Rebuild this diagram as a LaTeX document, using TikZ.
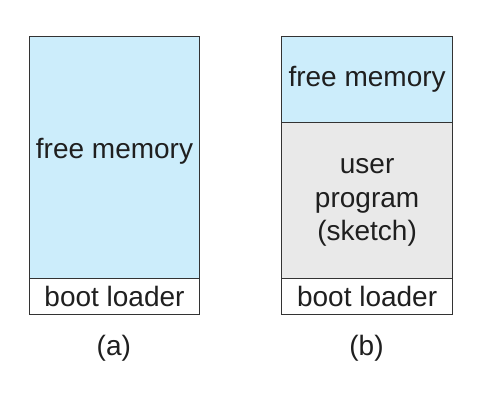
\documentclass[tikz,border=0pt]{standalone}
\usepackage{fontspec}
\setmainfont{Liberation Sans}
\definecolor{freeblue}{RGB}{204,237,251}
\definecolor{usergray}{RGB}{233,233,233}
\definecolor{edge}{RGB}{51,51,51}
\begin{document}
\begin{tikzpicture}[x=1pt,y=1pt,
  block/.style={draw=edge,line width=1.1pt,inner sep=0pt,anchor=south west,minimum width=170.5pt},
  lbl/.style={font=\fontsize{28}{33.5}\selectfont,text=black!88,align=center,inner sep=0pt}]
\useasboundingbox (0,0) rectangle (481,406);
% (a)
\node[block,fill=freeblue,minimum height=242pt] (freeA) at (28.7,126.7) {};
\node[block,fill=white,minimum height=35.4pt] (bootA) at (28.7,91.3) {};
\node[lbl] (freeAtxt) at ([yshift=6pt]freeA.center) {free memory};
\node[lbl] (bootAtxt) at (bootA.center) {boot loader};
\node[lbl] (capA) at (113.8,57.5) {(a)};
% (b)
\node[block,fill=freeblue,minimum height=85.7pt] (freeB) at (281.3,283) {};
\node[block,fill=usergray,minimum height=156.3pt] (userB) at (281.3,126.7) {};
\node[block,fill=white,minimum height=35.4pt] (bootB) at (281.3,91.3) {};
\node[lbl] (freeBtxt) at (freeB.center) {free memory};
\node[lbl] (userBtxt) at ([yshift=-2pt]userB.center) {user\\program\\(sketch)};
\node[lbl] (bootBtxt) at (bootB.center) {boot loader};
\node[lbl] (capB) at (366.5,57.5) {(b)};
\end{tikzpicture}
\end{document}
